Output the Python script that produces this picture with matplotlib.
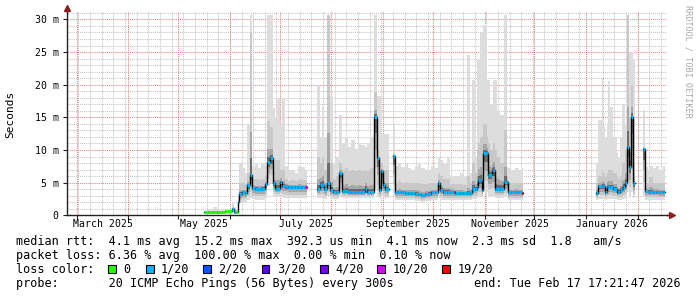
import numpy as np
import matplotlib
matplotlib.use("Agg")
import matplotlib.pyplot as plt
import matplotlib.dates as mdates
from matplotlib.patches import Rectangle
from datetime import datetime

NaN = float("nan")

# ---------------- data ----------------
# column start, in days since 2025-01-01; each value holds until the next entry,
# rows with NaN median mark the end of a run of data (gap)
days = [
    135.5, 138.0, 141.0, 143.0, 146.0, 148.1, 152.3, 153.2, 154.7, 155.9, 156.5, 158.0,
    160.1, 161.3, 163.1, 164.3, 166.0, 168.0, 170.0, 172.1, 173.3, 175.0, 176.9, 178.2,
    179.4, 181.0, 182.3, 184.0, 186.0, 188.0, 190.0, 192.0, 194.0, 196.2, 197.4,
    203.2, 205.2, 206.5, 207.6, 209.4, 211.2, 213.0, 215.0, 216.6, 218.4, 220.0, 222.0,
    224.0, 226.0, 228.0, 230.0, 232.2, 233.4, 235.0, 237.6, 239.4, 240.6, 241.8, 243.0,
    244.2, 246.6,
    249.1, 250.3, 252.0, 254.0, 256.0, 258.0, 260.0, 262.0, 264.0, 266.0, 268.0, 270.0,
    272.0, 274.3,
    275.9, 277.2, 279.2, 281.5, 283.5, 285.8, 286.2, 289.0, 291.0, 293.3, 295.3, 296.3,
    298.3, 299.3, 300.2, 301.3, 302.3, 303.3, 305.3, 306.2, 307.3, 308.3, 309.3, 310.3,
    311.3, 313.3, 315.7, 317.7, 318.3, 320.0, 322.0, 324.0, 326.5, 327.3,
    371.0, 372.3, 374.4, 375.4, 376.4, 377.4, 378.4, 379.4, 381.4, 383.4, 384.4, 385.4,
    386.4, 387.0, 388.4, 389.4, 390.8, 391.8, 393.4, 394.4,
    399.4, 400.4, 402.0, 403.0, 405.0, 407.0, 409.0, 411.0, 412.4,
]
median_ms = [
    0.45, 0.45, 0.45, 0.45, 0.45, 0.65, 0.97, 0.5, 0.5, 2.1, 3.3, 3.5,
    3.4, 4.6, 6.2, 4.2, 4.1, 4.1, 4.1, 4.8, 8.2, 8.7, 4.9, 4.1,
    4.1, 5.1, 4.5, 4.5, 4.4, 4.4, 4.4, 4.4, 4.4, 4.4, NaN,
    4.1, 4.7, 4.7, 4.0, 4.9, 3.9, 3.6, 3.6, 6.5, 3.7, 3.7, 3.6,
    3.6, 3.6, 3.6, 3.6, 4.1, 3.6, 3.6, 15.0, 8.7, 3.9, 6.8, 4.6,
    4.0, NaN,
    9.1, 3.5, 3.5, 3.5, 3.4, 3.4, 3.4, 3.3, 3.2, 3.1, 3.2, 3.3,
    3.5, 3.5,
    4.9, 3.9, 3.6, 3.6, 3.6, 3.5, 3.4, 3.4, 3.4, 3.4, 3.4, 4.1,
    4.1, 4.3, 5.4, 5.4, 3.9, 9.5, 9.5, 6.2, 6.2, 6.9, 6.9, 4.1,
    4.1, 4.1, 5.1, 5.1, 3.5, 3.5, 3.6, 3.5, 3.4, NaN,
    3.4, 4.5, 4.5, 4.5, 3.6, 4.4, 4.4, 4.4, 4.1, 3.6, 3.6, 3.9,
    4.0, 4.4, 4.9, 10.5, 7.4, 15.1, 4.9, NaN,
    10.1, 3.7, 3.7, 3.6, 3.6, 3.6, 3.5, 3.5, NaN,
]
smoke_max_ms = [
    0.7, 0.9, 1.3, 0.8, 0.9, 1.0, 1.9, 1.2, 0.8, 3.3, 7.8, 7.3,
    6.5, 14.0, 30.7, 7.5, 8.0, 7.2, 7.8, 7.5, 30.7, 30.7, 16.4, 15.0,
    17.9, 14.0, 17.9, 7.5, 6.8, 7.0, 6.5, 7.5, 7.4, 7.0, NaN,
    20.0, 12.0, 16.6, 12.0, 30.7, 18.2, 8.0, 9.0, 15.3, 11.0, 12.0, 10.5,
    11.5, 10.2, 11.0, 10.8, 10.5, 11.0, 12.0, 30.7, 18.2, 18.2, 12.5, 12.5,
    12.5, NaN,
    13.6, 7.5, 8.0, 7.4, 7.8, 7.2, 7.0, 7.5, 8.0, 7.3, 7.0, 7.0,
    7.5, 7.2,
    9.0, 8.5, 8.0, 9.0, 6.0, 6.0, 6.0, 6.5, 5.8, 24.5, 6.5, 20.7,
    9.0, 23.8, 23.8, 27.9, 27.9, 29.1, 20.7, 20.7, 17.1, 17.1, 20.7, 20.7,
    16.1, 15.3, 30.7, 7.5, 7.2, 7.0, 7.3, 7.0, 7.2, NaN,
    8.0, 14.6, 21.0, 13.6, 12.0, 14.0, 20.5, 16.6, 12.0, 9.5, 9.0, 12.0,
    17.1, 17.1, 14.0, 30.7, 25.0, 25.0, 24.0, NaN,
    16.1, 7.4, 7.0, 7.6, 7.2, 7.5, 7.0, 7.6, NaN,
]
smoke_upper_ms = [
    0.55, 0.6, 0.7, 0.6, 0.6, 0.8, 1.3, 0.8, 0.6, 2.6, 5.0, 5.0,
    4.8, 6.5, 28.0, 5.5, 5.6, 5.4, 5.6, 6.0, 14.5, 13.5, 7.5, 8.5,
    8.5, 7.0, 7.0, 5.5, 5.3, 5.4, 5.2, 5.5, 5.4, 5.4, NaN,
    9.0, 8.0, 9.0, 7.0, 30.7, 8.0, 5.5, 6.0, 8.0, 7.0, 7.2, 6.8,
    7.0, 6.8, 7.0, 6.8, 7.0, 6.8, 7.2, 18.9, 10.0, 9.0, 8.0, 7.0,
    7.0, NaN,
    9.5, 5.0, 5.2, 5.0, 5.1, 5.0, 4.9, 5.0, 5.0, 4.8, 4.8, 4.9,
    5.0, 5.0,
    6.5, 6.0, 5.5, 5.5, 4.8, 4.8, 4.8, 4.8, 4.7, 6.0, 5.0, 8.0,
    6.5, 10.0, 11.0, 12.0, 12.0, 14.0, 12.0, 11.0, 10.0, 10.0, 11.0, 10.0,
    9.0, 8.0, 13.0, 6.0, 5.0, 5.0, 5.0, 5.0, 5.0, NaN,
    5.0, 6.0, 7.0, 6.5, 6.0, 6.5, 7.0, 7.0, 6.5, 6.0, 5.5, 6.0,
    8.0, 8.0, 10.0, 30.7, 15.0, 20.0, 8.0, NaN,
    10.5, 5.0, 5.0, 5.8, 5.0, 5.0, 5.0, 5.0, NaN,
]
smoke_min_ms = [
    0.35, 0.35, 0.35, 0.35, 0.35, 0.45, 0.5, 0.3, 0.35, 1.5, 2.0, 2.1,
    2.1, 2.3, 2.6, 2.5, 2.4, 2.4, 2.4, 2.6, 4.5, 5.0, 3.0, 2.8,
    2.8, 2.8, 2.7, 2.6, 2.6, 2.6, 2.6, 2.6, 2.6, 2.6, NaN,
    2.6, 2.6, 2.6, 2.5, 3.0, 2.5, 2.5, 2.5, 3.0, 2.6, 2.6, 2.6,
    2.6, 2.6, 2.6, 2.6, 2.6, 2.6, 2.6, 4.0, 3.0, 2.6, 2.8, 2.6,
    2.6, NaN,
    3.0, 2.3, 2.3, 2.3, 2.3, 2.3, 2.3, 2.2, 2.2, 2.1, 2.2, 2.2,
    2.3, 2.3,
    2.6, 2.4, 2.3, 2.3, 2.3, 2.3, 2.3, 2.3, 2.3, 2.3, 2.3, 2.5,
    2.5, 2.6, 2.8, 2.8, 2.6, 3.5, 3.5, 3.0, 3.0, 3.0, 3.0, 2.6,
    2.6, 2.6, 2.8, 2.6, 2.3, 2.3, 2.3, 2.3, 2.3, NaN,
    2.4, 2.5, 2.5, 2.5, 2.4, 2.5, 2.5, 2.5, 2.5, 2.4, 2.4, 2.4,
    2.5, 2.5, 2.6, 3.5, 3.0, 3.5, 2.6, NaN,
    3.0, 2.4, 2.4, 2.4, 2.4, 2.4, 2.4, 2.4, NaN,
]
loss_pings = (
    [0, 0, 0, 0, 0, 0, 1, 1, 0] + [1] * 24 + [10, 0]
    + [1] * 25 + [0]
    + [1] * 14
    + [1] * 5 + [19] + [1] * 26 + [19, 0]
    + [1] * 19 + [0]
    + [1] * 8 + [0]
)

loss_levels = [0, 1, 2, 3, 4, 10, 19]
loss_labels = ["0", "1/20", "2/20", "3/20", "4/20", "10/20", "19/20"]
loss_colors = ["#26ff00", "#00b8ff", "#0059ff", "#5e00ff", "#7e00ff", "#dd00ff", "#ff0000"]

month_starts = [(2025, m) for m in range(3, 13)] + [(2026, 1), (2026, 2), (2026, 3)]
label_months = [(2025, 3, "March 2025"), (2025, 5, "May 2025"), (2025, 7, "July 2025"),
                (2025, 9, "September 2025"), (2025, 11, "November 2025"),
                (2026, 1, "January 2026")]
y_ticks = [0, 5, 10, 15, 20, 25, 30]
y_ticklabels = ["0", "5 m", "10 m", "15 m", "20 m", "25 m", "30 m"]

legend_rows = [
    "median rtt:  4.1 ms avg  15.2 ms max  392.3 us min  4.1 ms now  2.3 ms sd  1.8   am/s",
    "packet loss: 6.36 % avg  100.00 % max  0.00 % min  0.10 % now",
    "loss color:",
    "probe:       20 ICMP Echo Pings (56 Bytes) every 300s",
]
end_text = "end: Tue Feb 17 17:21:47 2026"

# ---------------- figure ----------------
MONO = "DejaVu Sans Mono"
W, H = 697, 297
fig = plt.figure(figsize=(W / 100, H / 100), dpi=100, facecolor="white")


def fx(px):
    return px / W


def fy(py):
    return 1 - py / H


ax_left, ax_right, ax_bottom, ax_top = 67, 667, 215.3, 10.9
ax = fig.add_axes([fx(ax_left), fy(ax_bottom), (ax_right - ax_left) / W,
                   (ax_bottom - ax_top) / H])
ax.set_facecolor("white")

base = mdates.date2num(datetime(2025, 1, 1))
x0 = base + 53.17
x1 = base + 413.6
ax.set_xlim(x0, x1)
ax.set_ylim(0, 31.3)

# grid
dot = (0, (1, 1))
for v in range(1, 32):
    if v % 5:
        ax.axhline(v, color="#c4c4c4", lw=0.75, ls=dot, zorder=0)
week = base + 53
while week < x1:
    ax.axvline(week, color="#c4c4c4", lw=0.75, ls=dot, zorder=0)
    week += 7
for v in range(5, 31, 5):
    ax.axhline(v, color="#ea8080", lw=0.75, ls=dot, zorder=0.5)
month_nums = [mdates.date2num(datetime(y, m, 1)) for y, m in month_starts]
for mn in month_nums:
    if x0 < mn < x1:
        ax.axvline(mn, color="#ea8080", lw=0.75, ls=dot, zorder=0.5)

# data
d = base + np.array(days, dtype=float)
med = np.array(median_ms, dtype=float)
smax = np.array(smoke_max_ms, dtype=float)
sup = np.array(smoke_upper_ms, dtype=float)
smin = np.array(smoke_min_ms, dtype=float)
loss = np.array(loss_pings)

valid = ~np.isnan(med)
runs = []
i = 0
n = len(d)
while i < n:
    if valid[i]:
        j = i
        while j < n and valid[j]:
            j += 1
        runs.append((i, j))  # j is the end (gap) row
        i = j
    else:
        i += 1


def ext(arr, a, b):
    seg = list(arr[a:b])
    return np.array(seg + [seg[-1]])


layers = [
    (lambda m, lo, up, mx: (lo, mx), "#dddddd"),
    (lambda m, lo, up, mx: (lo + 0.3 * (m - lo), up), "#c8c8c8"),
    (lambda m, lo, up, mx: (m - 0.45 * (m - lo), m + 0.3 * (up - m)), "#a6a6a6"),
    (lambda m, lo, up, mx: (m - 0.22 * (m - lo), m + 0.12 * (up - m)), "#6a6a6a"),
]

for a, b in runs:
    xs = np.append(d[a:b], d[b])
    m = ext(med, a, b)
    lo = ext(smin, a, b)
    up = ext(sup, a, b)
    mx = ext(smax, a, b)
    for k, (fn, col) in enumerate(layers):
        y0, y1 = fn(m, lo, up, mx)
        ax.fill_between(xs, np.minimum(y0, 30.7), np.minimum(y1, 30.7), step="post",
                        color=col, lw=0, zorder=2 + k * 0.1)
    ax.step(xs, m, where="post", color="black", lw=1.0, zorder=3)
    for k in range(a, b):
        col = loss_colors[loss_levels.index(loss[k])]
        ax.hlines(med[k], d[k], d[k + 1], color=col, lw=2.1, zorder=4)

# axes look
for s in ["top", "right"]:
    ax.spines[s].set_visible(False)
for s in ["left", "bottom"]:
    ax.spines[s].set_color("#222222")
    ax.spines[s].set_linewidth(1.0)
    ax.spines[s].set_zorder(5)

ax.set_yticks(y_ticks)
ax.set_yticklabels(y_ticklabels, fontsize=7.1, family=MONO)
ax.tick_params(axis="y", length=3, width=0.8, color="#222222", pad=2.9)

ax.set_xticks([mn for mn in month_nums if x0 < mn < x1])
ax.set_xticklabels([])
mids = []
for y, mth, lab in label_months:
    s = mdates.date2num(datetime(y, mth, 1))
    ny, nm = (y + 1, 1) if mth == 12 else (y, mth + 1)
    e = mdates.date2num(datetime(ny, nm, 1))
    mids.append((s + e) / 2)
ax.set_xticks(mids, minor=True)
ax.set_xticklabels([lab for _, _, lab in label_months], minor=True, fontsize=7.1, family=MONO)
ax.tick_params(axis="x", which="major", length=3, width=0.8, color="#222222")
ax.tick_params(axis="x", which="minor", length=0, pad=2.6)

# axis arrows
arrow_col = "#8b1c1c"
ax.plot([1.0, 1.006], [0, 0], transform=ax.transAxes, color="#222222", lw=1.0,
        clip_on=False, zorder=5)
ax.plot([1.0075], [0], marker=">", ms=4.5, color=arrow_col, transform=ax.transAxes,
        clip_on=False, zorder=6, mec=arrow_col)
ax.plot([0, 0], [1.0, 1.008], transform=ax.transAxes, color="#222222", lw=1.0,
        clip_on=False, zorder=5)
ax.plot([0], [1.013], marker="^", ms=4.5, color=arrow_col, transform=ax.transAxes,
        clip_on=False, zorder=6, mec=arrow_col)

# labels
fig.text(fx(10), fy(114.7), "Seconds", rotation=90, ha="center", va="center",
         fontsize=8, family=MONO, color="black")
fig.text(fx(688), fy(5), "RRDTOOL / TOBI OETIKER", rotation=270, ha="center", va="top",
         fontsize=6.1, family=MONO, color="#a8a8a8")

# legend
baselines = [245.3, 259.0, 272.8, 286.6]
for txt, bl in zip(legend_rows, baselines):
    fig.text(fx(16), fy(bl), txt, ha="left", va="baseline", fontsize=8.5,
             family=MONO, color="black")
fig.text(fx(680.5), fy(baselines[3]), end_text, ha="right", va="baseline",
         fontsize=8.5, family=MONO, color="black")

box_x = [108.3, 146.0, 203.3, 261.7, 320.0, 377.3, 442.3]
for bx, col, lab in zip(box_x, loss_colors, loss_labels):
    fig.add_artist(Rectangle((fx(bx), fy(273.0)), 7.7 / W, 8.3 / H,
                             transform=fig.transFigure, facecolor=col,
                             edgecolor="black", lw=0.8))
    fig.text(fx(bx + 15), fy(baselines[2]), lab, ha="left", va="baseline",
             fontsize=8.5, family=MONO, color="black")

fig.savefig("out.png", dpi=100, facecolor="white")
